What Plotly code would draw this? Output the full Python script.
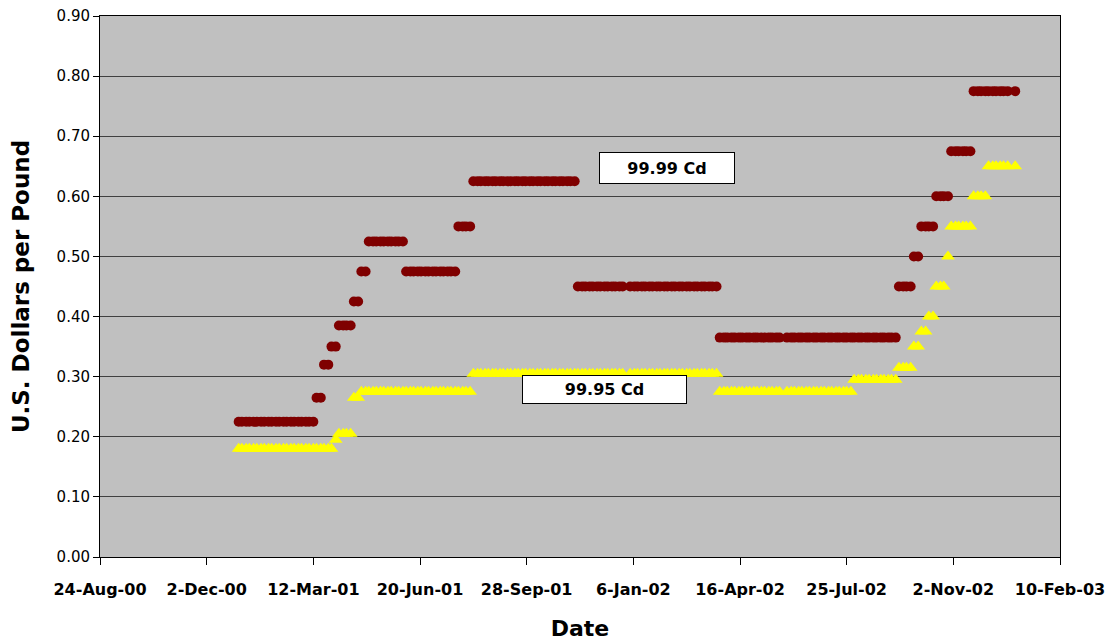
import pandas as pd
import plotly.graph_objects as go

# Price quotes are taken on Mondays and Thursdays, Jan 2001 - Dec 2002
mondays = pd.date_range("2001-01-01", "2002-12-30", freq="W-MON")
thursdays = mondays[:-1] + pd.Timedelta(days=3)
quote_dates = sorted(list(mondays) + list(thursdays))

# Dates with no published quote
no_quote_dates = ["2001-12-31", "2002-05-27", "2002-12-26"]

# 99.99% cadmium, US$/lb, one value per quote date
price_9999 = (
    [0.225] * 21 + [0.265] * 2 + [0.32] * 2 + [0.35] * 2 + [0.385] * 4
    + [0.425] * 2 + [0.475] * 2 + [0.525] * 10 + [0.475] * 14 + [0.55] * 4
    + [0.625] * 28 + [0.45] * 38 + [0.365] * 48 + [0.45] * 4 + [0.50] * 2
    + [0.55] * 4 + [0.60] * 4 + [0.675] * 6 + [0.775] * 12
)

# 99.95% cadmium, US$/lb, one value per quote date
price_9995 = (
    [0.18] * 26 + [0.195] * 1 + [0.205] * 4 + [0.265] * 2 + [0.275] * 30
    + [0.305] * 66 + [0.275] * 36 + [0.295] * 12 + [0.315] * 4 + [0.35] * 2
    + [0.375] * 2 + [0.40] * 2 + [0.45] * 3 + [0.50] * 1 + [0.55] * 6
    + [0.60] * 4 + [0.65] * 8
)

# Axis ticks (every 100 days)
tick_dates = ["2000-08-24", "2000-12-02", "2001-03-12", "2001-06-20", "2001-09-28",
              "2002-01-06", "2002-04-16", "2002-07-25", "2002-11-02", "2003-02-10"]
tick_labels = ["24-Aug-00", "2-Dec-00", "12-Mar-01", "20-Jun-01", "28-Sep-01",
               "6-Jan-02", "16-Apr-02", "25-Jul-02", "2-Nov-02", "10-Feb-03"]

skip = set(pd.to_datetime(no_quote_dates))
keep = [i for i, d in enumerate(quote_dates) if d not in skip]
dates = [quote_dates[i] for i in keep]
y_9999 = [price_9999[i] for i in keep]
y_9995 = [price_9995[i] for i in keep]

FONT = "DejaVu Sans"

fig = go.Figure()
fig.add_trace(go.Scatter(
    x=dates, y=y_9999, mode="markers", name="99.99 Cd",
    marker=dict(symbol="circle", size=10, color="#7F0000", line=dict(width=0)),
))
fig.add_trace(go.Scatter(
    x=dates, y=y_9995, mode="markers", name="99.95 Cd",
    marker=dict(symbol="triangle-up", size=12, color="#FFFF00", line=dict(width=0)),
))

fig.update_layout(
    width=1112, height=642,
    margin=dict(l=100, r=52, t=16, b=85),
    paper_bgcolor="white", plot_bgcolor="#C0C0C0",
    showlegend=False,
    font=dict(family=FONT, color="black"),
)

fig.update_xaxes(
    type="date", range=[tick_dates[0], tick_dates[-1]], automargin=False,
    tickvals=tick_dates, ticktext=tick_labels,
    ticks="outside", ticklen=7, tickcolor="black", tickwidth=1,
    showline=True, linecolor="black", linewidth=1, mirror=True,
    showgrid=False, zeroline=False,
    tickfont=dict(family=FONT, size=16, color="black", weight="bold"),
    ticklabelstandoff=11,
    title=dict(text="Date", font=dict(family=FONT, size=22, color="black", weight="bold"),
               standoff=22),
)

fig.update_yaxes(
    range=[0, 0.9], tick0=0, dtick=0.1, tickformat=".2f", automargin=False,
    ticks="outside", ticklen=6, tickcolor="black", tickwidth=1,
    showline=True, linecolor="black", linewidth=1, mirror=True,
    showgrid=True, gridcolor="#404040", gridwidth=1, zeroline=False,
    tickfont=dict(family=FONT, size=15, color="black"),
    title=dict(text="U.S. Dollars per Pound",
               font=dict(family=FONT, size=23, color="black", weight="bold"),
               standoff=20),
)

# Series labels in boxed text
box_style = dict(xref="paper", yref="paper", showarrow=False,
                 bgcolor="white", bordercolor="black", borderwidth=1, borderpad=0,
                 font=dict(family=FONT, size=16, color="black", weight="bold"),
                 xanchor="center", yanchor="middle", align="center", valign="middle")
fig.add_annotation(text="99.99 Cd", x=0.5906, y=0.719, width=134, height=30, **box_style)
fig.add_annotation(text="99.95 Cd", x=0.525, y=0.3105, width=163, height=27, **box_style)

fig.write_html("out.html")
